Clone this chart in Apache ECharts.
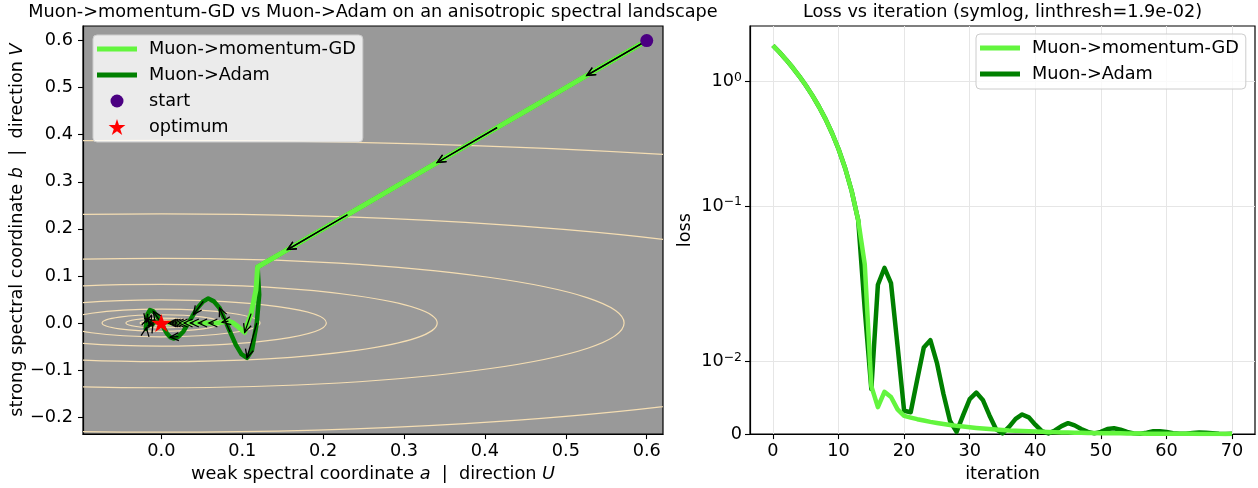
<!DOCTYPE html>
<html>
<head>
<meta charset="utf-8">
<script src="https://cdn.jsdelivr.net/npm/echarts@6/dist/echarts.min.js"></script>
<style>
  html, body { margin: 0; padding: 0; background: #ffffff; }
  #chart { width: 1258px; height: 488px; }
</style>
</head>
<body>
<div id="chart"></div>
<script>
// ---------- data ----------
const iterations = [
  0,1,2,3,4,5,6,7,8,9,10,11,12,13,14,15,16,17,18,19,20,21,22,23,24,25,26,27,28,29,
  30,31,32,33,34,35,36,37,38,39,40,41,42,43,44,45,46,47,48,49,50,51,52,53,54,55,56,57,58,59,
  60,61,62,63,64,65,66,67,68,69,70
];

// loss per iteration
const lossMomentumGD = [
  1.950, 1.717, 1.499, 1.295, 1.107, 0.933, 0.774, 0.630, 0.501, 0.386, 0.287, 0.202, 0.132, 0.0767,
  0.034, 0.0066, 0.0037, 0.0058, 0.0051, 0.0034,
  0.00250, 0.00227, 0.00205, 0.00186, 0.00168, 0.00153, 0.00138, 0.00125, 0.00113, 0.00103,
  0.00093, 0.00084, 0.00076, 0.00069, 0.00063, 0.00057, 0.00051, 0.00047, 0.00042, 0.00038,
  0.00035, 0.00031, 0.00028, 0.00026, 0.00023, 0.00021, 0.00019, 0.00017, 0.00016, 0.00014,
  0.00013, 0.00012, 0.00011, 0.00010, 0.00009, 0.00008, 0.00007, 0.000065, 0.00006, 0.000053,
  0.000048, 0.000044, 0.00004, 0.000036, 0.000032, 0.000029, 0.000027, 0.000024, 0.000022, 0.00002, 0.000018
];
const lossAdam = [
  1.950, 1.717, 1.499, 1.295, 1.107, 0.933, 0.774, 0.630, 0.501, 0.386, 0.287, 0.202, 0.132, 0.0767,
  0.0171, 0.0062, 0.0233, 0.0318, 0.0240, 0.0121,
  0.0032, 0.0030, 0.0075, 0.0119, 0.0129, 0.0098, 0.0055, 0.0018, 0.0003, 0.0026,
  0.0048, 0.0057, 0.0047, 0.0026, 0.0007, 0.0001, 0.0010, 0.0021, 0.0027, 0.0023,
  0.0013, 0.0004, 0.0001, 0.0005, 0.0011, 0.0015, 0.0012, 0.0007, 0.0003, 0.0001,
  0.0003, 0.0007, 0.0008, 0.0006, 0.0003, 0.0001, 0.00005, 0.0002, 0.0004, 0.0004,
  0.0003, 0.00012, 0.00004, 0.00005, 0.00015, 0.00022, 0.0002, 0.00012, 0.00005, 0.00003, 0.00005
];

// trajectories in the (a, b) spectral plane
const gdA = [
  0.600, 0.563, 0.526, 0.489, 0.452, 0.415, 0.378, 0.341, 0.304, 0.267, 0.230, 0.193, 0.156, 0.119,
  0.117, 0.111, 0.105, 0.103, 0.095, 0.088,
  0.0830, 0.0790, 0.0752, 0.0716, 0.0682, 0.0649, 0.0618, 0.0588, 0.0560, 0.0533,
  0.0507, 0.0483, 0.0460, 0.0438, 0.0417, 0.0397, 0.0378, 0.0359, 0.0342, 0.0326,
  0.0310, 0.0295, 0.0281, 0.0268, 0.0255, 0.0242, 0.0231, 0.0220, 0.0209, 0.0199,
  0.0190, 0.0181, 0.0172, 0.0164, 0.0156, 0.0148, 0.0141, 0.0134, 0.0128, 0.0122,
  0.0116, 0.0110, 0.0105, 0.0100, 0.0095, 0.0091, 0.0086, 0.0082, 0.0078, 0.0074, 0.0071
];
const gdB = [
  0.600, 0.563, 0.526, 0.489, 0.452, 0.415, 0.378, 0.341, 0.304, 0.267, 0.230, 0.193, 0.156, 0.119,
  0.070, 0.020, -0.008, -0.020, -0.008, 0.001,
  0.004, 0.003, 0.0015, 0.0006, 0.0002, 0, 0, 0, 0, 0,
  0, 0, 0, 0, 0, 0, 0, 0, 0, 0,
  0, 0, 0, 0, 0, 0, 0, 0, 0, 0,
  0, 0, 0, 0, 0, 0, 0, 0, 0, 0,
  0, 0, 0, 0, 0, 0, 0, 0, 0, 0, 0
];
const adamA = [
  0.600, 0.563, 0.526, 0.489, 0.452, 0.415, 0.378, 0.341, 0.304, 0.267, 0.230, 0.193, 0.156, 0.119,
  0.121, 0.118, 0.112, 0.106,
  0.099, 0.092, 0.085, 0.078, 0.072, 0.065, 0.058,
  0.0519, 0.0457, 0.0396, 0.0334, 0.0273, 0.0211, 0.015,
  0.0109, 0.0067, 0.0026, -0.0016, -0.0057, -0.0099, -0.014,
  -0.0155, -0.0168, -0.0178, -0.0186, -0.019, -0.0192, -0.019,
  -0.0189, -0.0186, -0.0181, -0.0175, -0.017, -0.0165, -0.016,
  -0.0155, -0.015, -0.0144, -0.0136, -0.013, -0.0124, -0.012,
  -0.0115, -0.011, -0.0103, -0.0097, -0.009, -0.0085, -0.008,
  -0.0075, -0.007, -0.0065, -0.006
];
const adamB = [
  0.600, 0.563, 0.526, 0.489, 0.452, 0.415, 0.378, 0.341, 0.304, 0.267, 0.230, 0.193, 0.156, 0.119,
  0.060, 0.000, -0.058, -0.074,
  -0.066, -0.046, -0.019, 0.009, 0.032, 0.046, 0.052,
  0.046, 0.034, 0.018, 0.000, -0.018, -0.029, -0.033,
  -0.030, -0.0216, -0.0094, 0.004, 0.0162, 0.0246, 0.0276,
  0.0255, 0.0196, 0.011, 0.0016, -0.007, -0.0129, -0.015,
  -0.0138, -0.0103, -0.0053, 0.0003, 0.0053, 0.0088, 0.010,
  0.0092, 0.007, 0.0038, 0.0002, -0.003, -0.0052, -0.006,
  -0.0055, -0.0041, -0.0021, 0.0001, 0.0021, 0.0035, 0.004,
  0.0037, 0.0029, 0.0017, 0.0004
];

const startPoint = [0.6, 0.6];
const optimumPoint = [0.0, 0.0];

// level-set ellipses of the loss landscape: semi-axes along a and b
const contourSemiA = [0.0262, 0.0438, 0.0732, 0.122, 0.204, 0.341, 0.572, 0.965, 1.614];
const contourSemiB = [0.0063, 0.0105, 0.0176, 0.0293, 0.049, 0.082, 0.1375, 0.232, 0.388];

// tick positions / labels
const planeTicksA = [0.0, 0.1, 0.2, 0.3, 0.4, 0.5, 0.6];
const planeTicksB = [-0.2, -0.1, 0.0, 0.1, 0.2, 0.3, 0.4, 0.5, 0.6];
const iterTicks = [0, 10, 20, 30, 40, 50, 60, 70];
const lossTicks = [0, 0.01, 0.1, 1];
const lossTickExponents = [null, '\u22122', '\u22121', '0'];

// quiver sampling: an arrow every ARROW_EVERY steps spanning ARROW_SPAN steps
const ARROW_EVERY = 5;
const ARROW_SPAN = 2;

// ---------- helpers ----------
const LINTHRESH = 0.019;
const LINSCALE_ADJ = 1 / (1 - 1 / 10);
function symlog(v) {
  const s = v < 0 ? -1 : 1, m = Math.abs(v);
  return m <= LINTHRESH ? v * LINSCALE_ADJ / LINTHRESH : s * (LINSCALE_ADJ + Math.log10(m / LINTHRESH));
}
function fmtSigned(v) {
  const r = Math.round(v * 10) / 10;
  return (r < 0 ? '\u2212' : '') + Math.abs(r).toFixed(1);
}
function pairs(xs, ys) { return xs.map((x, i) => [x, ys[i]]); }
function arrowSegments(xs, ys) {
  const out = [];
  for (let k = 0; k + ARROW_SPAN < xs.length; k += ARROW_EVERY) {
    out.push([xs[k], ys[k], xs[k + ARROW_SPAN], ys[k + ARROW_SPAN]]);
  }
  return out;
}

const FONT = 'DejaVu Sans';
const FS = 17.7;
const LIGHT = '#63f53e';
const DARK = '#008000';
const STAR = 'path://M50 0 L61.2 34.5 L97.6 34.5 L68.2 55.9 L79.4 90.5 L50 69.1 L20.6 90.5 L31.8 55.9 L2.4 34.5 L38.8 34.5 Z';
// legend glyphs drawn inside a 16-unit box so that they keep their own size
const LEGEND_DOT = 'path://M0 0 M16 16 M14.5 8 A6.5 6.5 0 1 1 1.5 8 A6.5 6.5 0 1 1 14.5 8 Z';
const LEGEND_LINE = 'path://M0 0 H40 V5 H0 Z';

function renderEllipse(params, api) {
  const c = api.coord([api.value(0), api.value(1)]);
  const s = api.size([api.value(2), api.value(3)]);
  return {
    type: 'ellipse',
    shape: { cx: c[0], cy: c[1], rx: s[0], ry: s[1] },
    style: { fill: 'none', stroke: '#f5deb3', lineWidth: 1.2 },
    silent: true
  };
}
function renderArrow(params, api) {
  const p0 = api.coord([api.value(0), api.value(1)]);
  const p1 = api.coord([api.value(2), api.value(3)]);
  const dx = p1[0] - p0[0], dy = p1[1] - p0[1];
  const len = Math.hypot(dx, dy) || 1;
  const ux = dx / len, uy = dy / len;
  const hl = 8.5, hw = 4;
  const bx = p1[0] - ux * hl, by = p1[1] - uy * hl;
  return {
    type: 'group',
    silent: true,
    children: [
      { type: 'line', shape: { x1: p0[0], y1: p0[1], x2: p1[0], y2: p1[1] },
        style: { stroke: '#000', lineWidth: 1.3 } },
      { type: 'polyline', shape: { points: [[bx - uy * hw, by + ux * hw], [p1[0], p1[1]], [bx + uy * hw, by - ux * hw]] },
        style: { stroke: '#000', fill: 'none', lineWidth: 1.3 } }
    ]
  };
}

const richName = {
  n: { fontFamily: FONT, fontSize: FS, color: '#000' },
  i: { fontFamily: FONT, fontSize: FS, color: '#000', fontStyle: 'italic' }
};
const baseAxis = {
  type: 'value',
  axisLine: { show: true, onZero: false, lineStyle: { color: '#000', width: 1.2 } },
  axisTick: { show: true, inside: false, length: 5, lineStyle: { color: '#000', width: 1.1 } },
  axisLabel: { color: '#000', fontFamily: FONT, fontSize: FS },
  nameLocation: 'middle',
  nameTextStyle: { rich: richName }
};

const legendCommon = {
  orient: 'vertical',
  itemWidth: 40,
  itemHeight: 16,
  itemGap: 6,
  selectedMode: false,
  padding: [4, 7, 5, 4],
  backgroundColor: 'rgba(255,255,255,0.8)',
  borderColor: '#cccccc',
  borderWidth: 1,
  borderRadius: 4,
  textStyle: { fontFamily: FONT, fontSize: FS, color: '#000', lineHeight: 20, padding: [0, 0, 0, 7] }
};

const option = {
  animation: false,
  textStyle: { fontFamily: FONT },
  graphic: {
    elements: [
      { type: 'text', x: 373, y: 12,
        style: { text: 'Muon->momentum-GD vs Muon->Adam on an anisotropic spectral landscape',
                 font: FS + 'px "DejaVu Sans"', fill: '#000', textAlign: 'center', textVerticalAlign: 'middle',
                 align: 'center', verticalAlign: 'middle' } },
      { type: 'text', x: 1002.5, y: 12,
        style: { text: 'Loss vs iteration (symlog, linthresh=1.9e-02)',
                 font: FS + 'px "DejaVu Sans"', fill: '#000', textAlign: 'center', textVerticalAlign: 'middle',
                 align: 'center', verticalAlign: 'middle' } }
    ]
  },
  grid: [
    { left: 83, top: 26, width: 580, height: 410, show: true, backgroundColor: '#999999', borderColor: '#000', borderWidth: 1.2 },
    { left: 750, top: 26, width: 505, height: 410, show: true, backgroundColor: '#ffffff', borderColor: '#000', borderWidth: 1.2 }
  ],
  xAxis: [
    Object.assign({}, baseAxis, {
      gridIndex: 0, min: -0.0968, max: 0.6201,
      axisTick: Object.assign({}, baseAxis.axisTick, { customValues: planeTicksA }),
      axisLabel: Object.assign({}, baseAxis.axisLabel, { customValues: planeTicksA, formatter: fmtSigned, margin: 8 }),
      splitLine: { show: false },
      name: '{n|weak spectral coordinate }{i|a}{n|  |  direction }{i|U}',
      nameGap: 22
    }),
    Object.assign({}, baseAxis, {
      gridIndex: 1, min: -3.5, max: 73.5,
      axisTick: Object.assign({}, baseAxis.axisTick, { customValues: iterTicks }),
      axisLabel: Object.assign({}, baseAxis.axisLabel, { customValues: iterTicks, margin: 8 }),
      splitLine: { show: true, lineStyle: { color: '#e6e6e6', width: 1 } },
      name: '{n|iteration}',
      nameGap: 22
    })
  ],
  yAxis: [
    Object.assign({}, baseAxis, {
      gridIndex: 0, min: -0.236, max: 0.631,
      axisTick: Object.assign({}, baseAxis.axisTick, { customValues: planeTicksB }),
      axisLabel: Object.assign({}, baseAxis.axisLabel, { customValues: planeTicksB, formatter: fmtSigned, margin: 10 }),
      splitLine: { show: false },
      name: '{n|strong spectral coordinate }{i|b}{n|  |  direction }{i|V}',
      nameGap: 56
    }),
    Object.assign({}, baseAxis, {
      gridIndex: 1, min: 0, max: symlog(lossMomentumGD[0]) * 1.05,
      axisTick: Object.assign({}, baseAxis.axisTick, { customValues: lossTicks.map(symlog) }),
      axisLabel: Object.assign({}, baseAxis.axisLabel, {
        customValues: lossTicks.map(symlog), margin: 8,
        formatter: function (v) {
          let idx = 0, best = Infinity;
          lossTicks.forEach((t, i) => { const d = Math.abs(symlog(t) - v); if (d < best) { best = d; idx = i; } });
          const e = lossTickExponents[idx];
          return e === null ? '{b|0}' : '{b|10}{s|' + e + '}';
        },
        rich: {
          b: { fontFamily: FONT, fontSize: FS, color: '#000', lineHeight: 20 },
          s: { fontFamily: FONT, fontSize: 12.4, color: '#000', lineHeight: 8, verticalAlign: 'top' }
        }
      }),
      splitLine: { show: true, lineStyle: { color: '#e6e6e6', width: 1 } },
      name: '{n|loss}',
      nameGap: 56
    })
  ],
  legend: [
    Object.assign({}, legendCommon, {
      left: 93, top: 35,
      data: [
        { name: 'Muon->momentum-GD', icon: LEGEND_LINE },
        { name: 'Muon->Adam', icon: LEGEND_LINE },
        { name: 'start', icon: LEGEND_DOT },
        { name: 'optimum', icon: STAR }
      ]
    }),
    Object.assign({}, legendCommon, {
      left: 976, top: 34,
      data: [
        { name: 'Muon->momentum-GD', icon: LEGEND_LINE },
        { name: 'Muon->Adam', icon: LEGEND_LINE }
      ]
    })
  ],
  series: [
    {
      name: 'level sets', type: 'custom', xAxisIndex: 0, yAxisIndex: 0, clip: true, z: 1,
      renderItem: renderEllipse,
      data: contourSemiA.map((ra, i) => [optimumPoint[0], optimumPoint[1], ra, contourSemiB[i]])
    },
    {
      name: 'Muon->Adam', type: 'line', xAxisIndex: 0, yAxisIndex: 0, z: 2,
      symbol: 'none', data: pairs(adamA, adamB), itemStyle: { color: DARK },
      lineStyle: { color: DARK, width: 4.5, join: 'round' }
    },
    {
      name: 'Muon->momentum-GD', type: 'line', xAxisIndex: 0, yAxisIndex: 0, z: 3,
      symbol: 'none', data: pairs(gdA, gdB), itemStyle: { color: LIGHT },
      lineStyle: { color: LIGHT, width: 5, join: 'round' }
    },
    {
      name: 'steps', type: 'custom', xAxisIndex: 0, yAxisIndex: 0, clip: true, z: 4,
      renderItem: renderArrow,
      data: arrowSegments(gdA, gdB).concat(arrowSegments(adamA, adamB))
    },
    {
      name: 'start', type: 'scatter', xAxisIndex: 0, yAxisIndex: 0, z: 6,
      symbol: 'circle', symbolSize: 13, data: [startPoint], itemStyle: { color: '#4b0082', opacity: 1 }
    },
    {
      name: 'optimum', type: 'scatter', xAxisIndex: 0, yAxisIndex: 0, z: 6,
      symbol: STAR, symbolSize: [20, 19], symbolKeepAspect: true, data: [optimumPoint],
      itemStyle: { color: '#ff0000', opacity: 1 }
    },
    {
      name: 'Muon->Adam', type: 'line', xAxisIndex: 1, yAxisIndex: 1, z: 2,
      symbol: 'none', data: iterations.map((t, i) => [t, symlog(lossAdam[i])]), itemStyle: { color: DARK },
      lineStyle: { color: DARK, width: 4.5, join: 'round' }
    },
    {
      name: 'Muon->momentum-GD', type: 'line', xAxisIndex: 1, yAxisIndex: 1, z: 3,
      symbol: 'none', data: iterations.map((t, i) => [t, symlog(lossMomentumGD[i])]), itemStyle: { color: LIGHT },
      lineStyle: { color: LIGHT, width: 4.5, join: 'round' }
    }
  ]
};

const chart = echarts.init(document.getElementById('chart'), null, { renderer: 'canvas' });
chart.setOption(option);
</script>
</body>
</html>
